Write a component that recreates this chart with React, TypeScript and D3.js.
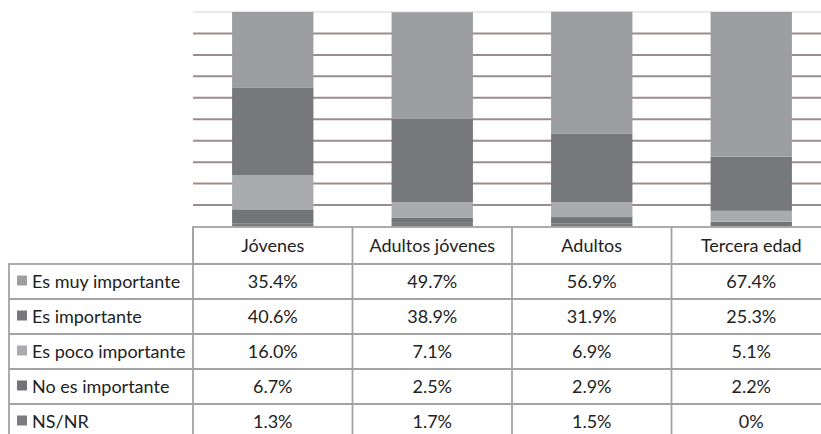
import React from "react";
import * as d3 from "d3";

const categories = ["Jóvenes", "Adultos jóvenes", "Adultos", "Tercera edad"];
const seriesNames = ["Es muy importante", "Es importante", "Es poco importante", "No es importante", "NS/NR"];
const muyImportante = [35.4, 49.7, 56.9, 67.4];
const importante = [40.6, 38.9, 31.9, 25.3];
const pocoImportante = [16.0, 7.1, 6.9, 5.1];
const noImportante = [6.7, 2.5, 2.9, 2.2];
const nsnr = [1.3, 1.7, 1.5, 0];
const valueLabels = [
  ["35.4%", "49.7%", "56.9%", "67.4%"],
  ["40.6%", "38.9%", "31.9%", "25.3%"],
  ["16.0%", "7.1%", "6.9%", "5.1%"],
  ["6.7%", "2.5%", "2.9%", "2.2%"],
  ["1.3%", "1.7%", "1.5%", "0%"],
];
const gridTicks = [10, 20, 30, 40, 50, 60, 70, 80, 90];

const seriesValues = [muyImportante, importante, pocoImportante, noImportante, nsnr];
const colors = ["#9d9ea2", "#77787c", "#a9abae", "#737478", "#7b7c80"];

export default function App() {
  const W = 821, H = 434;
  const plotLeft = 193, plotRight = 831, plotTop = 12, plotBottom = 226.5;
  const x = d3.scaleBand<string>().domain(categories).range([plotLeft, plotRight]).paddingInner(0.49).paddingOuter(0.245);
  const y = d3.scaleLinear().domain([0, 100]).range([plotBottom, plotTop]);

  const rows = categories.map((c, i) => {
    const o: any = { cat: c };
    seriesNames.forEach((s, k) => (o[s] = seriesValues[k][i]));
    return o;
  });
  const stackKeys = [...seriesNames].reverse();
  const stacked = d3.stack<any>().keys(stackKeys)(rows);

  const step = x.step();
  const colLeft = (i: number) => plotLeft + i * step;
  const headerTop = 227, headerBottom = 264, rowH = 35;
  const labelLeft = 9;
  const border = "#a3a3a3";
  const font = "Lato, 'Open Sans', sans-serif";
  const textColor = "#222";
  const fs = 18;

  return (
    <svg width={W} height={H} style={{ position: "absolute", left: 0, top: 0, background: "#fff" }} fontFamily={font}>
      <rect width={W} height={H} fill="#fff" />
      <line x1={plotLeft} x2={W} y1={y(100)} y2={y(100)} stroke="#d4d4d4" strokeWidth={1} />
      {gridTicks.map((t) => (
        <line key={t} x1={plotLeft} x2={W} y1={y(t)} y2={y(t)} stroke="#9b8d8b" strokeWidth={2} />
      ))}
      {stacked.map((layer) => {
        const k = seriesNames.indexOf(layer.key);
        return (
          <g key={layer.key} fill={colors[k]}>
            {layer.map((d, i) => (
              <rect key={i} x={x(categories[i])} width={x.bandwidth()} y={y(d[1])} height={Math.max(0, y(d[0]) - y(d[1]))} />
            ))}
          </g>
        );
      })}
      {/* header row */}
      <rect x={plotLeft} y={headerTop} width={plotRight - plotLeft} height={headerBottom - headerTop} fill="#fff" stroke={border} strokeWidth={1.8} />
      {categories.map((c, i) => (
        <text key={c} x={colLeft(i) + step / 2} y={(headerTop + headerBottom) / 2} dy="0.35em" textAnchor="middle" fontSize={fs} fill={textColor}>{c}</text>
      ))}
      {/* body rows */}
      <rect x={labelLeft} y={headerBottom} width={plotRight - labelLeft} height={rowH * 5} fill="none" stroke={border} strokeWidth={1.8} />
      <line x1={plotLeft} x2={plotLeft} y1={headerTop} y2={H} stroke={border} strokeWidth={1.8} />
      {categories.map((c, i) => i > 0 && (
        <line key={"v" + i} x1={colLeft(i)} x2={colLeft(i)} y1={headerTop} y2={H} stroke={border} strokeWidth={1.8} />
      ))}
      {seriesNames.map((s, r) => {
        const top = headerBottom + r * rowH;
        const cy = top + rowH / 2;
        return (
          <g key={s}>
            {r > 0 && <line x1={labelLeft} x2={plotRight} y1={top} y2={top} stroke={border} strokeWidth={1.8} />}
            <rect x={17} y={cy - 6} width={10} height={10} fill={colors[r]} />
            <text x={32} y={cy} dy="0.35em" fontSize={fs} fill={textColor}>{s}</text>
            {valueLabels[r].map((v, i) => (
              <text key={i} x={colLeft(i) + step / 2} y={cy} dy="0.35em" textAnchor="middle" fontSize={fs} fill={textColor}>{v}</text>
            ))}
          </g>
        );
      })}
    </svg>
  );
}
